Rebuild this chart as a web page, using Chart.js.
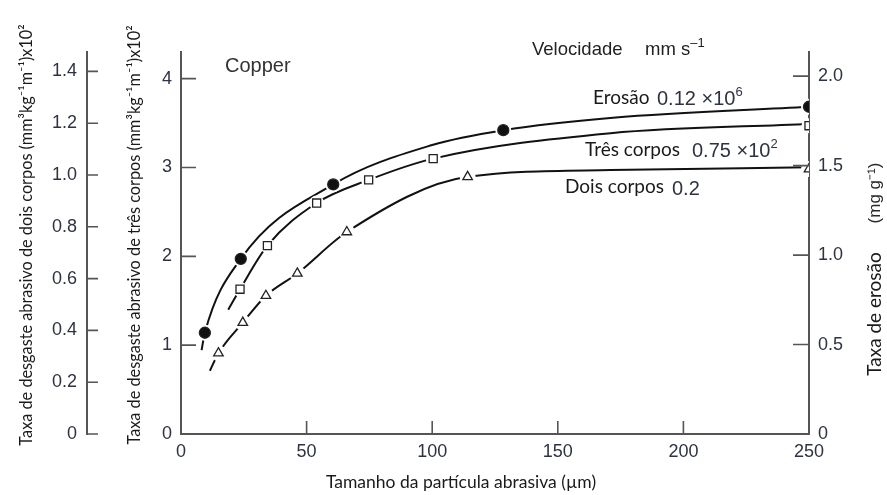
<!DOCTYPE html>
<html>
<head>
<meta charset="utf-8">
<script src="https://cdn.jsdelivr.net/npm/chart.js@4.4.1/dist/chart.umd.min.js"></script>
<style>
  html, body { margin: 0; padding: 0; background: #fff; }
  #wrap { width: 887px; height: 495px; }
</style>
</head>
<body>
<div id="wrap"><canvas id="chart" width="887" height="495"></canvas></div>
<script>
// measured points, particle size in µm
const erosaoX = [9.5, 23.8, 60.6, 128.3, 250];
const erosaoY = [0.566, 0.979, 1.395, 1.698, 1.829]; // mg g-1, right axis
const tresX = [23.5, 34.4, 54.0, 74.7, 100.4, 250];
const tresY = [1.63, 2.12, 2.60, 2.86, 3.10, 3.47]; // x10^2, inner left axis
const doisX = [14.9, 24.6, 33.8, 46.3, 66.0, 114.1, 250];
const doisY = [0.312, 0.430, 0.534, 0.620, 0.780, 0.993, 1.023]; // x10^2, outer left axis

// the fitted curves as they are drawn in the figure
const erosaoCurveX = [8.2, 9.5, 23.8, 60.6, 100, 128.3, 172, 250];
const erosaoCurveY = [0.469, 0.566, 0.979, 1.395, 1.615, 1.698, 1.768, 1.829];
const tresCurveX = [18.8, 23.5, 34.4, 54.0, 74.7, 100.4, 171, 250];
const tresCurveY = [1.40, 1.63, 2.12, 2.60, 2.86, 3.10, 3.386, 3.49];
const doisCurveX = [11.5, 14.9, 24.6, 33.8, 46.3, 66.0, 114.1, 171, 250];
const doisCurveY = [0.244, 0.312, 0.430, 0.534, 0.620, 0.780, 0.993, 1.019, 1.03];

// ticks
const xTicks = [0, 50, 100, 150, 200, 250];
const tresTicks = [0, 1, 2, 3, 4];
const doisTicks = [0, 0.2, 0.4, 0.6, 0.8, 1.0, 1.2, 1.4];
const doisTickLabels = ["0", "0.2", "0.4", "0.6", "0.8", "1.0", "1.2", "1.4"];
const erosaoTicks = [0, 0.5, 1.0, 1.5, 2.0];
const erosaoTickLabels = ["0", "0.5", "1.0", "1.5", "2.0"];

const NUM_FONT = "'Liberation Sans', Arial, sans-serif";
const TXT_FONT = "Lato, 'Open Sans', sans-serif";
const AXIS = "#555";
const NUM_COLOR = "#2e3340";
const TXT_COLOR = "#1a1a1a";

const pts = (xs, ys) => xs.map((x, i) => ({ x: x, y: ys[i] }));

function curve(xs, ys, axis) {
  return {
    data: pts(xs, ys),
    yAxisID: axis,
    borderColor: "#111",
    borderWidth: 2,
    pointRadius: 0,
    cubicInterpolationMode: "monotone",
    fill: false,
    order: 3,
  };
}
function halo(xs, ys, axis, r) {
  return {
    data: pts(xs, ys),
    yAxisID: axis,
    showLine: false,
    pointRadius: r,
    pointBackgroundColor: "#fff",
    pointBorderWidth: 0,
    pointBorderColor: "#fff",
    order: 2,
  };
}
function markers(xs, ys, axis, style, r, bg) {
  return {
    data: pts(xs, ys),
    yAxisID: axis,
    showLine: false,
    pointStyle: style,
    pointRadius: r,
    pointBackgroundColor: bg,
    pointBorderColor: "#222",
    pointBorderWidth: 1.3,
    order: 1,
  };
}

function setTicks(values) {
  return (scale) => {
    scale.ticks = values.map((v) => ({ value: v }));
  };
}

const tickMarks = {
  id: "tickMarks",
  afterDatasetsDraw(chart) {
    const ctx = chart.ctx;
    const { x, yTres, yDois, yErosao } = chart.scales;
    ctx.save();
    ctx.strokeStyle = AXIS;
    ctx.lineWidth = 1.6;
    ctx.beginPath();
    xTicks.slice(1, -1).forEach((v) => {
      const px = x.getPixelForValue(v);
      ctx.moveTo(px, x.top);
      ctx.lineTo(px, x.top - 13);
    });
    tresTicks.slice(1).forEach((v) => {
      const py = yTres.getPixelForValue(v);
      ctx.moveTo(yTres.right, py);
      ctx.lineTo(yTres.right + 15, py);
    });
    doisTicks.forEach((v) => {
      const py = yDois.getPixelForValue(v);
      ctx.moveTo(yDois.right, py);
      ctx.lineTo(yDois.right + 11, py);
    });
    erosaoTicks.slice(1).forEach((v) => {
      const py = yErosao.getPixelForValue(v);
      ctx.moveTo(yErosao.left, py);
      ctx.lineTo(yErosao.left - 16, py);
    });
    ctx.stroke();
    ctx.restore();
  },
};

// draws a row of text pieces; a piece with dy is raised (superscript)
function runs(ctx, parts, x, y) {
  let cx = x;
  parts.forEach((p) => {
    ctx.font = p.font;
    ctx.fillStyle = p.color;
    ctx.textAlign = "left";
    ctx.textBaseline = "middle";
    ctx.fillText(p.t, cx, y + (p.dy || 0));
    cx += ctx.measureText(p.t).width;
  });
}
function vtext(ctx, str, x, y, font, color) {
  ctx.save();
  ctx.translate(x, y);
  ctx.rotate(-Math.PI / 2);
  ctx.font = font;
  ctx.fillStyle = color;
  ctx.textAlign = "center";
  ctx.textBaseline = "middle";
  ctx.fillText(str, 0, 0);
  ctx.restore();
}

const labels = {
  id: "labels",
  afterDraw(chart) {
    const ctx = chart.ctx;
    const big = "20px " + NUM_FONT;
    const sup = "13px " + NUM_FONT;
    ctx.save();
    // axis titles
    vtext(ctx, "Taxa de desgaste abrasivo de dois corpos (mm³kg⁻¹m⁻¹)x10²", 27, 235, "16.3px " + TXT_FONT, TXT_COLOR);
    vtext(ctx, "Taxa de desgaste abrasivo de três corpos (mm³kg⁻¹m⁻¹)x10²", 135, 235, "16.3px " + TXT_FONT, TXT_COLOR);
    vtext(ctx, "Taxa de erosão", 875, 314, "19px " + TXT_FONT, TXT_COLOR);
    vtext(ctx, "(mg g⁻¹)", 875, 193, "17px " + NUM_FONT, "#2a2a2a");
    ctx.font = "17.5px " + TXT_FONT;
    ctx.fillStyle = TXT_COLOR;
    ctx.textAlign = "center";
    ctx.textBaseline = "middle";
    ctx.fillText("Tamanho da partícula abrasiva (µm)", 461, 482);

    // annotations
    runs(ctx, [{ t: "Copper", font: "20px " + NUM_FONT, color: "#333" }], 225, 66);
    runs(ctx, [{ t: "Velocidade", font: "18.5px " + NUM_FONT, color: "#222" }], 532, 50);
    runs(ctx, [
      { t: "mm s", font: "18.5px " + NUM_FONT, color: "#222" },
      { t: "–1", font: sup, color: "#222", dy: -7 },
    ], 645, 50);
    runs(ctx, [{ t: "Erosão", font: "19px " + TXT_FONT, color: TXT_COLOR }], 593, 98);
    runs(ctx, [
      { t: "0.12 ×10", font: big, color: NUM_COLOR },
      { t: "6", font: sup, color: NUM_COLOR, dy: -7 },
    ], 657, 99);
    runs(ctx, [{ t: "Três corpos", font: "19px " + TXT_FONT, color: TXT_COLOR }], 585, 150);
    runs(ctx, [
      { t: "0.75 ×10", font: big, color: NUM_COLOR },
      { t: "2", font: sup, color: NUM_COLOR, dy: -7 },
    ], 692, 151);
    runs(ctx, [{ t: "Dois corpos", font: "19px " + TXT_FONT, color: TXT_COLOR }], 565, 187);
    runs(ctx, [{ t: "0.2", font: big, color: NUM_COLOR }], 672, 189);
    ctx.restore();
  },
};

const tickFont = { family: NUM_FONT, size: 18 };

new Chart(document.getElementById("chart"), {
  type: "line",
  data: {
    datasets: [
      curve(erosaoCurveX, erosaoCurveY, "yErosao"),
      curve(tresCurveX, tresCurveY, "yTres"),
      curve(doisCurveX, doisCurveY, "yDois"),
      halo(erosaoX, erosaoY, "yErosao", 8),
      halo(tresX, tresY, "yTres", 7.5),
      halo(doisX, doisY, "yDois", 8),
      markers(erosaoX, erosaoY, "yErosao", "circle", 5.5, "#111"),
      markers(tresX, tresY, "yTres", "rect", 5.7, "#fff"),
      markers(doisX, doisY, "yDois", "triangle", 5.5, "#fff"),
    ],
  },
  options: {
    responsive: false,
    animation: false,
    events: [],
    layout: { padding: { top: 52, left: 0, right: 0, bottom: 0 } },
    plugins: {
      legend: { display: false },
      tooltip: { enabled: false },
    },
    scales: {
      x: {
        type: "linear",
        position: "bottom",
        min: 0,
        max: 250,
        afterBuildTicks: setTicks(xTicks),
        afterFit: (s) => { s.height = 61; },
        ticks: { font: tickFont, color: NUM_COLOR, padding: 7, maxRotation: 0, autoSkip: false },
        grid: { display: false, drawTicks: false },
        border: { color: AXIS, width: 2 },
      },
      yTres: {
        type: "linear",
        position: "left",
        weight: 0,
        min: 0,
        max: 4.3,
        afterBuildTicks: setTicks(tresTicks),
        afterFit: (s) => { s.width = 94; },
        ticks: { font: tickFont, color: NUM_COLOR, padding: 9 },
        grid: { display: false, drawTicks: false },
        border: { color: AXIS, width: 2 },
      },
      yDois: {
        type: "linear",
        position: "left",
        weight: 1,
        min: 0,
        max: 1.475,
        afterBuildTicks: setTicks(doisTicks),
        afterFit: (s) => { s.width = 87; },
        ticks: {
          font: tickFont,
          color: NUM_COLOR,
          padding: 10,
          callback: (v) => doisTickLabels[doisTicks.indexOf(v)],
        },
        grid: { display: false, drawTicks: false },
        border: { color: AXIS, width: 2 },
      },
      yErosao: {
        type: "linear",
        position: "right",
        min: 0,
        max: 2.135,
        afterBuildTicks: setTicks(erosaoTicks),
        afterFit: (s) => { s.width = 78; },
        ticks: {
          font: tickFont,
          color: NUM_COLOR,
          padding: 9,
          callback: (v) => erosaoTickLabels[erosaoTicks.indexOf(v)],
        },
        grid: { display: false, drawTicks: false },
        border: { color: AXIS, width: 2 },
      },
    },
  },
  plugins: [tickMarks, labels],
});
</script>
</body>
</html>
